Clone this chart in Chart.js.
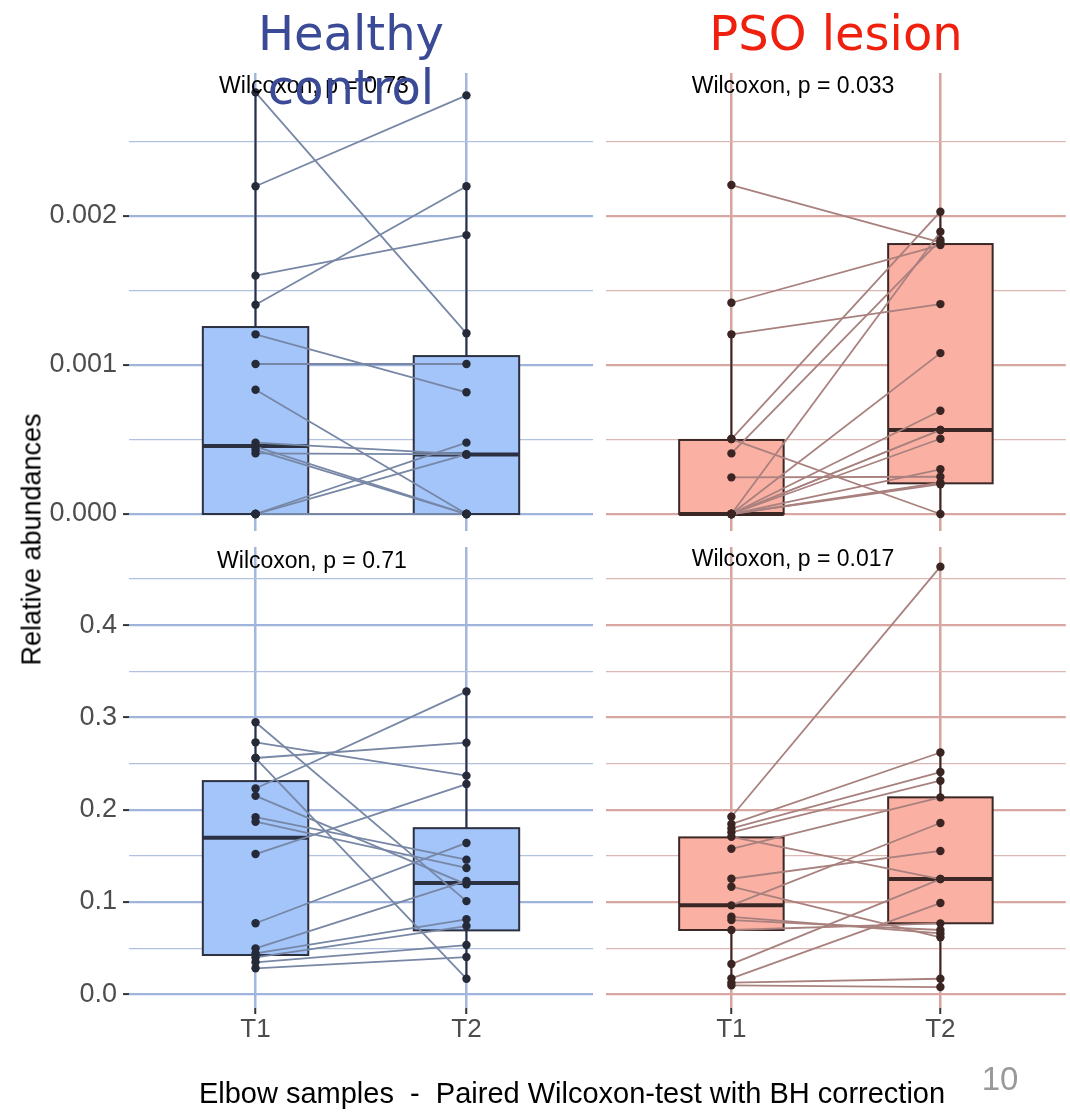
<!DOCTYPE html>
<html><head><meta charset="utf-8">
<script src="https://cdn.jsdelivr.net/npm/chart.js@4.4.1/dist/chart.umd.min.js"></script>
<style>
html,body{margin:0;padding:0;background:#fff;}
#wrap{position:relative;width:1070px;height:1112px;overflow:hidden;background:#fff;}
canvas{position:absolute;left:0;top:0;}
.t{position:absolute;white-space:nowrap;text-align:center;font-family:"Liberation Sans",Arial,sans-serif;}
</style></head><body>
<div id="wrap">
<canvas id="c1" width="1070" height="1112"></canvas>
<canvas id="c2" width="1070" height="1112"></canvas>
<canvas id="c3" width="1070" height="1112"></canvas>
<canvas id="c4" width="1070" height="1112"></canvas>
<div class="t" style="left:114px;top:74px;width:400px;font-size:23px;line-height:23px;color:#000;">Wilcoxon, p = 0.73</div>
<div class="t" style="left:593px;top:74px;width:400px;font-size:23px;line-height:23px;color:#000;">Wilcoxon, p = 0.033</div>
<div class="t" style="left:112px;top:549px;width:400px;font-size:23px;line-height:23px;color:#000;">Wilcoxon, p = 0.71</div>
<div class="t" style="left:593px;top:547px;width:400px;font-size:23px;line-height:23px;color:#000;">Wilcoxon, p = 0.017</div>
<div class="t" style="left:151px;top:6px;width:400px;font-family:'DejaVu Sans',sans-serif;font-size:48px;line-height:54px;color:#3a4a96;">Healthy<br>control</div>
<div class="t" style="left:636px;top:6px;width:400px;font-family:'DejaVu Sans',sans-serif;font-size:48px;line-height:54px;color:#f0200f;">PSO lesion</div>
<div class="t" style="left:-168px;top:526px;width:400px;font-size:27px;line-height:27px;color:#000;transform:rotate(-90deg);">Relative abundances</div>
<div class="t" style="left:122px;top:1079px;width:900px;font-size:29px;line-height:29px;color:#000;">Elbow samples&nbsp; - &nbsp;Paired Wilcoxon-test with BH correction</div>
<div class="t" style="left:950px;top:1062px;width:100px;font-size:33px;line-height:33px;color:#999;">10</div>
</div>
<script>
// ---- categories & ticks ----
const groups = ['T1', 'T2'];
const topTicks = [0, 0.0005, 0.001, 0.0015, 0.002, 0.0025];
const topTickLabels = ['0.000', '', '0.001', '', '0.002', ''];
const botTicks = [0, 0.05, 0.1, 0.15, 0.2, 0.25, 0.3, 0.35, 0.4, 0.45];
const botTickLabels = ['0.0', '', '0.1', '', '0.2', '', '0.3', '', '0.4', ''];

// ---- Healthy control, upper taxon (paired T1 -> T2) ----
const hcTopT1 = [0.00283, 0.00220, 0.00160, 0.001405, 0.001206, 0.001007, 0.000834, 0.000479, 0.000452, 0.000430, 0.000407, 0, 0, 0, 0, 0];
const hcTopT2 = [0.001213, 0.00281, 0.001872, 0.00220, 0.000817, 0.001007, 0, 0.000400, 0, 0, 0.000400, 0.000479, 0.000400, 0, 0, 0];
// box stats [lower whisker, Q1, median, Q3, upper whisker]
const hcTopBoxT1 = [0, 0, 0.000456, 0.001255, 0.00283];
const hcTopBoxT2 = [0, 0, 0.000400, 0.001060, 0.00220];

// ---- PSO lesion, upper taxon ----
const psoTopT1 = [0.002208, 0.001418, 0.001206, 0.000503, 0.000503, 0.000407, 0.000246, 0, 0, 0, 0, 0, 0, 0, 0, 0];
const psoTopT2 = [0.001823, 0.001805, 0.001409, 0.002029, 0, 0.001839, 0.000250, 0.001895, 0.001080, 0.000693, 0.000564, 0.000505, 0.000300, 0.000210, 0.000564, 0.000200];
const psoTopBoxT1 = [0, 0, 0, 0.000497, 0.001206];
const psoTopBoxT2 = [0, 0.000206, 0.000564, 0.001812, 0.002029];

// ---- Healthy control, lower taxon ----
const hcBotT1 = [0.2947, 0.273, 0.256, 0.256, 0.223, 0.215, 0.192, 0.187, 0.152, 0.077, 0.0498, 0.0444, 0.040, 0.0347, 0.0282];
const hcBotT2 = [0.101, 0.2369, 0.2726, 0.0169, 0.328, 0.1192, 0.1459, 0.1369, 0.2278, 0.164, 0.1228, 0.0813, 0.074, 0.0534, 0.0404];
const hcBotBoxT1 = [0.0282, 0.0426, 0.1697, 0.231, 0.2947];
const hcBotBoxT2 = [0.0169, 0.0693, 0.1205, 0.180, 0.328];

// ---- PSO lesion, lower taxon ----
const psoBotT1 = [0.1924, 0.1845, 0.1798, 0.1755, 0.1707, 0.1577, 0.1252, 0.1166, 0.0964, 0.084, 0.0805, 0.0697, 0.0328, 0.0173, 0.0126, 0.0097];
const psoBotT2 = [0.4633, 0.262, 0.2408, 0.2314, 0.1249, 0.2134, 0.1553, 0.0618, 0.1856, 0.066, 0.0697, 0.0769, 0.1249, 0.0989, 0.0169, 0.0079];
const psoBotBoxT1 = [0.0097, 0.0697, 0.0964, 0.170, 0.1924];
const psoBotBoxT2 = [0.0079, 0.077, 0.1249, 0.2134, 0.262];

// ---- themes ----
const blue = {gridMajor:'#9fb4dc', gridMinor:'#b2c1df', gridV:'#a2b7de', line:'#7787a5', point:'#252a38', fill:'#a3c5fa', stroke:'#2c3141'};
const pink = {gridMajor:'#d8a7a2', gridMinor:'#dcb8b4', gridV:'#d6a39e', line:'#a8817e', point:'#3a2523', fill:'#fbb0a4', stroke:'#3b2826'};

function makePanel(id, t1, t2, boxes, theme, yTicks, yLabels, yMin, yMax, pad, showY, showX) {
  const boxPlugin = {
    id: 'boxes_' + id,
    beforeDatasetsDraw(chart) {
      const {ctx, scales: {x, y}, chartArea} = chart;
      ctx.save();
      ctx.beginPath();
      ctx.rect(chartArea.left, chartArea.top, chartArea.right - chartArea.left, chartArea.bottom - chartArea.top);
      ctx.clip();
      boxes.forEach((b, i) => {
        const cx = x.getPixelForValue(i + 1);
        const half = x.getPixelForValue(i + 1.25) - cx;
        const pLo = y.getPixelForValue(b[0]), pQ1 = y.getPixelForValue(b[1]), pMed = y.getPixelForValue(b[2]),
              pQ3 = y.getPixelForValue(b[3]), pHi = y.getPixelForValue(b[4]);
        ctx.strokeStyle = theme.stroke;
        ctx.lineWidth = 2;
        ctx.beginPath();
        ctx.moveTo(cx, pQ3); ctx.lineTo(cx, pHi);
        ctx.moveTo(cx, pQ1); ctx.lineTo(cx, pLo);
        ctx.stroke();
        ctx.fillStyle = theme.fill;
        ctx.fillRect(cx - half, pQ3, 2 * half, pQ1 - pQ3);
        ctx.strokeRect(cx - half, pQ3, 2 * half, pQ1 - pQ3);
        ctx.lineWidth = 4;
        ctx.beginPath();
        ctx.moveTo(cx - half, pMed); ctx.lineTo(cx + half, pMed);
        ctx.stroke();
      });
      ctx.restore();
    }
  };
  const datasets = [];
  datasets.push({
    type: 'scatter', order: 0,
    data: t1.map(v => ({x: 1, y: v})).concat(t2.map(v => ({x: 2, y: v}))),
    pointRadius: 4.2, pointBackgroundColor: theme.point, pointBorderWidth: 0, showLine: false
  });
  t1.forEach((v, i) => {
    datasets.push({
      type: 'line', order: 1,
      data: [{x: 1, y: v}, {x: 2, y: t2[i]}],
      borderColor: theme.line, borderWidth: 1.8, pointRadius: 0, fill: false, tension: 0
    });
  });
  return new Chart(document.getElementById(id), {
    type: 'scatter',
    data: {datasets},
    options: {
      responsive: false, animation: false, devicePixelRatio: 1,
      layout: {padding: pad},
      plugins: {legend: {display: false}, tooltip: {enabled: false}, title: {display: false}},
      scales: {
        x: {
          type: 'linear', min: 0.4, max: 2.6,
          afterBuildTicks: s => { s.ticks = groups.map((g, i) => ({value: i + 1})); },
          afterFit: s => { s.height = showX ? 104 : 0; },
          ticks: {display: showX, autoSkip: false, maxRotation: 0, padding: 0,
                  callback: (v, i) => groups[i],
                  font: {family: '"Liberation Sans", Arial, sans-serif', size: 26}, color: '#4d4d4d'},
          grid: {color: theme.gridV, lineWidth: 2.5, drawTicks: showX, tickLength: 6, tickWidth: 2, tickColor: '#333'},
          border: {display: false}
        },
        y: {
          type: 'linear', min: yMin, max: yMax,
          afterBuildTicks: s => { s.ticks = yTicks.map(v => ({value: v})); },
          afterFit: s => { s.width = showY ? 129 : 0; },
          ticks: {display: showY, autoSkip: false, padding: 6,
                  callback: (v, i) => yLabels[i],
                  font: {family: '"Liberation Sans", Arial, sans-serif', size: 27}, color: '#4d4d4d'},
          grid: {
            color: c => yLabels[c.index] ? theme.gridMajor : theme.gridMinor,
            lineWidth: c => yLabels[c.index] ? 2.2 : 1.3,
            drawTicks: showY, tickLength: 6, tickWidth: 2,
            tickColor: c => yLabels[c.index] ? '#333' : 'rgba(0,0,0,0)'
          },
          border: {display: false}
        }
      }
    },
    plugins: [boxPlugin]
  });
}

makePanel('c1', hcTopT1, hcTopT2, [hcTopBoxT1, hcTopBoxT2], blue, topTicks, topTickLabels, -0.000114, 0.00296,
          {left: 0, right: 477, top: 73, bottom: 581}, true, false);
makePanel('c2', psoTopT1, psoTopT2, [psoTopBoxT1, psoTopBoxT2], pink, topTicks, topTickLabels, -0.000114, 0.00296,
          {left: 606, right: 1, top: 73, bottom: 581}, false, false);
makePanel('c3', hcBotT1, hcBotT2, [hcBotBoxT1, hcBotBoxT2], blue, botTicks, botTickLabels, -0.0148, 0.4846,
          {left: 0, right: 477, top: 547, bottom: 0}, true, true);
makePanel('c4', psoBotT1, psoBotT2, [psoBotBoxT1, psoBotBoxT2], pink, botTicks, botTickLabels, -0.0148, 0.4846,
          {left: 606, right: 1, top: 547, bottom: 0}, false, true);
</script>
</body></html>
